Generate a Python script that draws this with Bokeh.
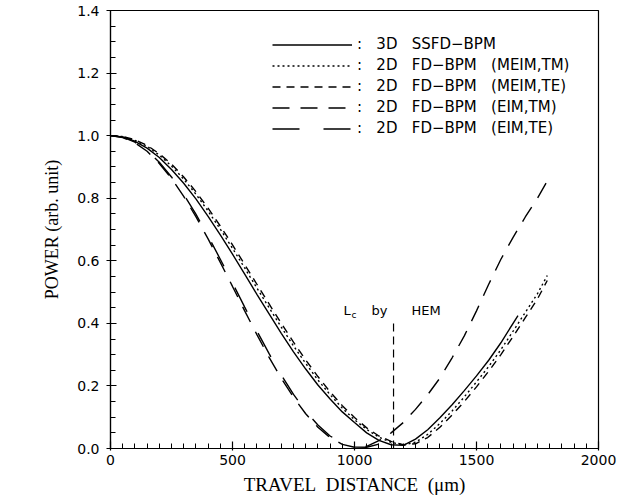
from bokeh.plotting import figure
from bokeh.models import Legend, LegendItem, Label, FixedTicker, Range1d, PrintfTickFormatter
from bokeh.embed import file_html
from bokeh.resources import INLINE

# ---- data ----
dist_3d = [0, 50, 100, 150, 200, 250, 300, 350, 400, 450, 500, 550, 600, 650, 700, 750, 800,
           850, 900, 950, 1000, 1050, 1100, 1150, 1200, 1250, 1300, 1350, 1400, 1450, 1500,
           1550, 1600, 1670]
power_3d = [1.000, 0.996, 0.982, 0.960, 0.930, 0.892, 0.848, 0.798, 0.742, 0.683, 0.621, 0.557,
            0.493, 0.430, 0.368, 0.309, 0.254, 0.203, 0.158, 0.117, 0.083, 0.050, 0.026, 0.012,
            0.010, 0.030, 0.060, 0.098, 0.140, 0.185, 0.232, 0.282, 0.338, 0.425]

dist_meim = [0, 50, 100, 150, 200, 250, 300, 350, 400, 450, 500, 550, 600, 650, 700, 750, 800,
             850, 900, 950, 1000, 1050, 1100, 1150, 1200, 1250, 1300, 1350, 1400, 1450, 1500,
             1550, 1600, 1650, 1700, 1750, 1790]
power_meim_tm = [1.000, 0.997, 0.985, 0.966, 0.938, 0.903, 0.861, 0.813, 0.759, 0.701, 0.640,
                 0.577, 0.513, 0.450, 0.388, 0.328, 0.272, 0.219, 0.172, 0.129, 0.092, 0.061,
                 0.036, 0.020, 0.011, 0.020, 0.045, 0.080, 0.120, 0.165, 0.213, 0.262, 0.316,
                 0.375, 0.435, 0.495, 0.553]
power_meim_te = [1.000, 0.997, 0.987, 0.969, 0.942, 0.909, 0.868, 0.821, 0.768, 0.711, 0.651,
                 0.588, 0.525, 0.462, 0.400, 0.340, 0.283, 0.230, 0.181, 0.137, 0.099, 0.066,
                 0.040, 0.023, 0.012, 0.015, 0.035, 0.068, 0.107, 0.150, 0.197, 0.247, 0.300,
                 0.358, 0.418, 0.478, 0.537]

dist_eim_tm = [0, 50, 100, 150, 200, 250, 300, 350, 400, 450, 500, 550, 600, 650, 700, 750, 800,
               850, 900, 950, 1000, 1050, 1100, 1150, 1200, 1250, 1300, 1350, 1400, 1450, 1500,
               1550, 1600, 1650, 1700, 1750, 1790]
power_eim_tm = [1.000, 0.994, 0.977, 0.950, 0.911, 0.863, 0.806, 0.741, 0.670, 0.595, 0.518,
                0.440, 0.364, 0.291, 0.224, 0.164, 0.111, 0.068, 0.035, 0.013, 0.004, 0.007,
                0.025, 0.050, 0.083, 0.125, 0.172, 0.225, 0.290, 0.360, 0.440, 0.525, 0.605,
                0.675, 0.740, 0.800, 0.855]

dist_eim_te = [0, 50, 100, 150, 200, 250, 300, 350, 400, 450, 500, 550, 600, 650, 700, 750, 800,
               850, 900, 950, 1000, 1050, 1100]
power_eim_te = [1.000, 0.995, 0.979, 0.953, 0.915, 0.868, 0.812, 0.749, 0.679, 0.605, 0.529,
                0.452, 0.376, 0.303, 0.235, 0.173, 0.119, 0.075, 0.040, 0.017, 0.005, 0.004,
                0.014]

lc_hem = 1160          # coupling length by HEM
lc_line_top = 0.40

x_ticks = [0, 500, 1000, 1500, 2000]
y_ticks = [0.0, 0.2, 0.4, 0.6, 0.8, 1.0, 1.2, 1.4]

sp = "\u00a0"
labels = [":" + sp * 3 + "3D" + sp * 3 + "SSFD\u2212BPM",
          ":" + sp * 3 + "2D" + sp * 3 + "FD\u2212BPM" + sp * 3 + "(MEIM,TM)",
          ":" + sp * 3 + "2D" + sp * 3 + "FD\u2212BPM" + sp * 3 + "(MEIM,TE)",
          ":" + sp * 3 + "2D" + sp * 3 + "FD\u2212BPM" + sp * 3 + "(EIM,TM)",
          ":" + sp * 3 + "2D" + sp * 3 + "FD\u2212BPM" + sp * 3 + "(EIM,TE)"]

# ---- figure ----
p = figure(width=632, height=502, output_backend="svg", toolbar_location=None,
           x_range=Range1d(0, 2000), y_range=Range1d(0, 1.4),
           min_border_left=110, min_border_right=34, min_border_top=10, min_border_bottom=54)
p.background_fill_color = "white"
p.border_fill_color = "white"
p.outline_line_color = "black"
p.outline_line_width = 1.2
p.xgrid.visible = False
p.ygrid.visible = False

lw = 1.4
r1 = p.line(dist_3d, power_3d, line_color="black", line_width=lw)
r2 = p.line(dist_meim, power_meim_tm, line_color="black", line_width=lw, line_dash="2 3")
r3 = p.line(dist_meim, power_meim_te, line_color="black", line_width=lw, line_dash="8 6")
r4 = p.line(dist_eim_tm, power_eim_tm, line_color="black", line_width=lw, line_dash="17 11")
r5 = p.line(dist_eim_te, power_eim_te, line_color="black", line_width=lw, line_dash="27 24")

p.line([lc_hem, lc_hem], [0, lc_line_top], line_color="black", line_width=1.2, line_dash="8 5")

tick_font = "DejaVu Sans"
for txt, dx, dy, size in (("L", -50, 5, "13px"), ("c", -42, 3, "9px"),
                          ("by", -22, 5, "13px"), ("HEM", 18, 5, "13px")):
    p.add_layout(Label(x=lc_hem, y=lc_line_top, x_offset=dx, y_offset=dy, text=txt,
                       text_font=tick_font, text_font_size=size, text_color="black"))

legend = Legend(items=[LegendItem(label=labels[i], renderers=[r]) for i, r in
                       enumerate([r1, r2, r3, r4, r5])],
                location=(162, 311), orientation="vertical",
                glyph_width=80, glyph_height=17, label_height=17, spacing=3,
                label_standoff=5, padding=0, margin=0,
                border_line_color=None, background_fill_alpha=0,
                label_text_font=tick_font, label_text_font_size="15px",
                label_text_color="black")
p.add_layout(legend)

# axes
for ax in (p.xaxis, p.yaxis):
    ax.axis_line_color = "black"
    ax.axis_line_width = 1.2
    ax.major_tick_line_color = "black"
    ax.minor_tick_line_color = "black"
    ax.major_tick_line_width = 1.2
    ax.minor_tick_line_width = 1
    ax.major_label_text_font = tick_font
    ax.major_label_text_font_size = "14px"
    ax.major_label_text_color = "black"
    ax.axis_label_text_font = "Liberation Serif"
    ax.axis_label_text_font_style = "normal"
    ax.axis_label_text_color = "black"

p.xaxis.axis_label_text_font_size = "19px"
p.yaxis.axis_label_text_font_size = "18px"

p.xaxis.ticker = FixedTicker(ticks=x_ticks, minor_ticks=list(range(0, 2001, 50)))
p.yaxis.ticker = FixedTicker(ticks=y_ticks, minor_ticks=[i * 0.05 for i in range(29)])
p.xaxis.formatter = PrintfTickFormatter(format="%d")
p.yaxis.formatter = PrintfTickFormatter(format="%.1f")

p.xaxis.major_tick_in = 7
p.xaxis.major_tick_out = 2
p.xaxis.minor_tick_in = 5
p.xaxis.minor_tick_out = 0
p.yaxis.major_tick_in = 6
p.yaxis.major_tick_out = 4
p.yaxis.minor_tick_in = 5
p.yaxis.minor_tick_out = 0
p.xaxis.major_label_standoff = 4
p.yaxis.major_label_standoff = 7

p.xaxis.axis_label = "TRAVEL" + sp * 2 + "DISTANCE" + sp * 2 + "(\u03bcm)"
p.yaxis.axis_label = "POWER (arb. unit)"
p.xaxis.axis_label_standoff = 6
p.yaxis.axis_label_standoff = 12

open("out.html", "w").write(file_html(p, INLINE))
